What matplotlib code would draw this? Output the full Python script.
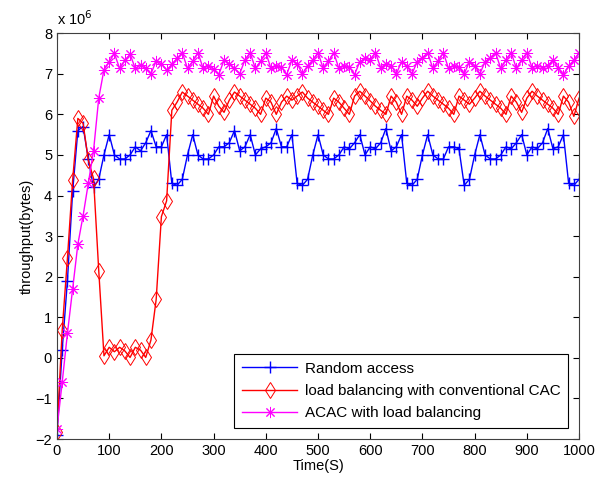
import matplotlib
matplotlib.use("Agg")
import matplotlib.pyplot as plt
import numpy as np

plt.rcParams['font.family'] = ['Liberation Sans', 'DejaVu Sans']

# time axis, one sample every 10 s
time_s = np.arange(0, 1001, 10)

# throughput in units of 1e6 bytes
random_access = [
    -1.9, 0.2, 1.9, 4.1, 5.6, 5.7, 4.9, 4.2, 4.4, 5.0,
    5.5, 5.0, 4.9, 4.9, 5.0, 5.2, 5.1, 5.3, 5.6, 5.2,
    5.2, 5.5, 4.3, 4.25, 4.4, 5.0, 5.5, 5.0, 4.9, 4.9,
    5.0, 5.2, 5.2, 5.3, 5.6, 5.1, 5.2, 5.5, 5.0, 5.15,
    5.2, 5.3, 5.65, 5.2, 5.2, 5.5, 4.3, 4.25, 4.4, 5.0,
    5.5, 5.0, 4.9, 4.9, 5.0, 5.2, 5.15, 5.3, 5.5, 5.0,
    5.2, 5.15, 5.3, 5.65, 5.1, 5.2, 5.5, 4.3, 4.25, 4.4,
    5.0, 5.5, 5.0, 4.9, 4.9, 5.2, 5.2, 5.15, 4.25, 4.4,
    5.0, 5.5, 5.0, 4.9, 4.9, 5.0, 5.2, 5.15, 5.3, 5.5,
    5.0, 5.2, 5.15, 5.3, 5.65, 5.15, 5.2, 5.5, 4.3, 4.25,
    4.4,
]

conventional_cac = [
    -1.82, 0.68, 2.45, 4.38, 5.9, 5.78, 4.87, 4.42, 2.15, 0.05,
    0.26, 0.15, 0.26, 0.17, 0.01, 0.26, 0.19, 0.01, 0.44, 1.44,
    3.48, 3.87, 6.1, 6.3, 6.55, 6.45, 6.35, 6.25, 6.15, 6.0,
    6.45, 6.2, 6.05, 6.35, 6.55, 6.45, 6.35, 6.25, 6.15, 6.0,
    6.4, 6.3, 6.0, 6.3, 6.45, 6.35, 6.45, 6.55, 6.4, 6.3,
    6.2, 6.1, 6.0, 6.4, 6.3, 6.15, 6.0, 6.45, 6.57, 6.45,
    6.33, 6.2, 6.1, 6.0, 6.45, 6.3, 6.0, 6.45, 6.35, 6.2,
    6.4, 6.57, 6.45, 6.35, 6.25, 6.15, 6.0, 6.45, 6.35, 6.25,
    6.4, 6.57, 6.45, 6.35, 6.25, 6.15, 6.0, 6.45, 6.3, 6.05,
    6.4, 6.57, 6.45, 6.35, 6.25, 6.15, 6.0, 6.45, 6.3, 5.95,
    6.4,
]

acac_load_balancing = [
    -1.75, -0.6, 0.6, 1.7, 2.8, 3.5, 4.3, 5.1, 6.4, 7.1,
    7.3, 7.5, 7.13, 7.33, 7.48, 7.13, 7.21, 7.13, 7.0, 7.32,
    7.25, 7.09, 7.23, 7.38, 7.52, 7.13, 7.31, 7.52, 7.13, 7.2,
    7.11, 6.98, 7.34, 7.25, 7.13, 7.0, 7.34, 7.52, 7.13, 7.31,
    7.52, 7.13, 7.2, 7.17, 6.98, 7.34, 7.25, 7.0, 7.2, 7.34,
    7.52, 7.13, 7.31, 7.52, 7.13, 7.2, 7.17, 6.98, 7.3, 7.38,
    7.35, 7.52, 7.15, 7.25, 7.2, 7.0, 7.3, 7.2, 7.0, 7.3,
    7.4, 7.52, 7.13, 7.31, 7.52, 7.13, 7.2, 7.17, 7.0, 7.3,
    7.2, 7.0, 7.3, 7.4, 7.52, 7.13, 7.35, 7.52, 7.13, 7.35,
    7.52, 7.15, 7.2, 7.15, 7.2, 7.34, 7.15, 6.97, 7.2, 7.33,
    7.52,
]

series_labels = ['Random access',
                 'load balancing with conventional CAC',
                 'ACAC with load balancing']

fig = plt.figure(figsize=(5.96, 4.86), dpi=100)
ax = fig.add_axes([0.0956, 0.0967, 0.876, 0.835])

ax.plot(time_s, random_access, color='#0000ff', lw=1.0, marker='+',
        markersize=9, markeredgewidth=1.0, label=series_labels[0])
ax.plot(time_s, conventional_cac, color='#ff0000', lw=1.0, marker='d',
        markersize=8, markerfacecolor='none', markeredgewidth=0.7,
        label=series_labels[1])
ax.plot(time_s, acac_load_balancing, color='#ff00ff', lw=1.0, marker=(8, 2, 0),
        markersize=8, markeredgewidth=0.7, label=series_labels[2])

ax.set_xlim(0, 1000)
ax.set_ylim(-2, 8)
ax.set_xticks(np.arange(0, 1001, 100))
ax.set_yticks(np.arange(-2, 9, 1))
ax.tick_params(direction='in', top=True, right=True, labelsize=10.5, length=4)
for sp in ax.spines.values():
    sp.set_color('#404040')

ax.set_xlabel('Time(S)', fontsize=10.5, labelpad=1)
ax.set_ylabel('throughput(bytes)', fontsize=10.5, labelpad=1)
ax.text(0.0, 1.012, r'x 10$^{6}$', transform=ax.transAxes, fontsize=10.5,
        ha='left', va='bottom')

leg = ax.legend(loc='lower right', bbox_to_anchor=(0.979, 0.027), fontsize=11,
                fancybox=False, framealpha=1, edgecolor='black',
                borderpad=0.5, labelspacing=0.55, handlelength=3.6,
                handletextpad=0.5, borderaxespad=0)
leg.get_frame().set_linewidth(0.8)

fig.savefig('out.png', dpi=100)
